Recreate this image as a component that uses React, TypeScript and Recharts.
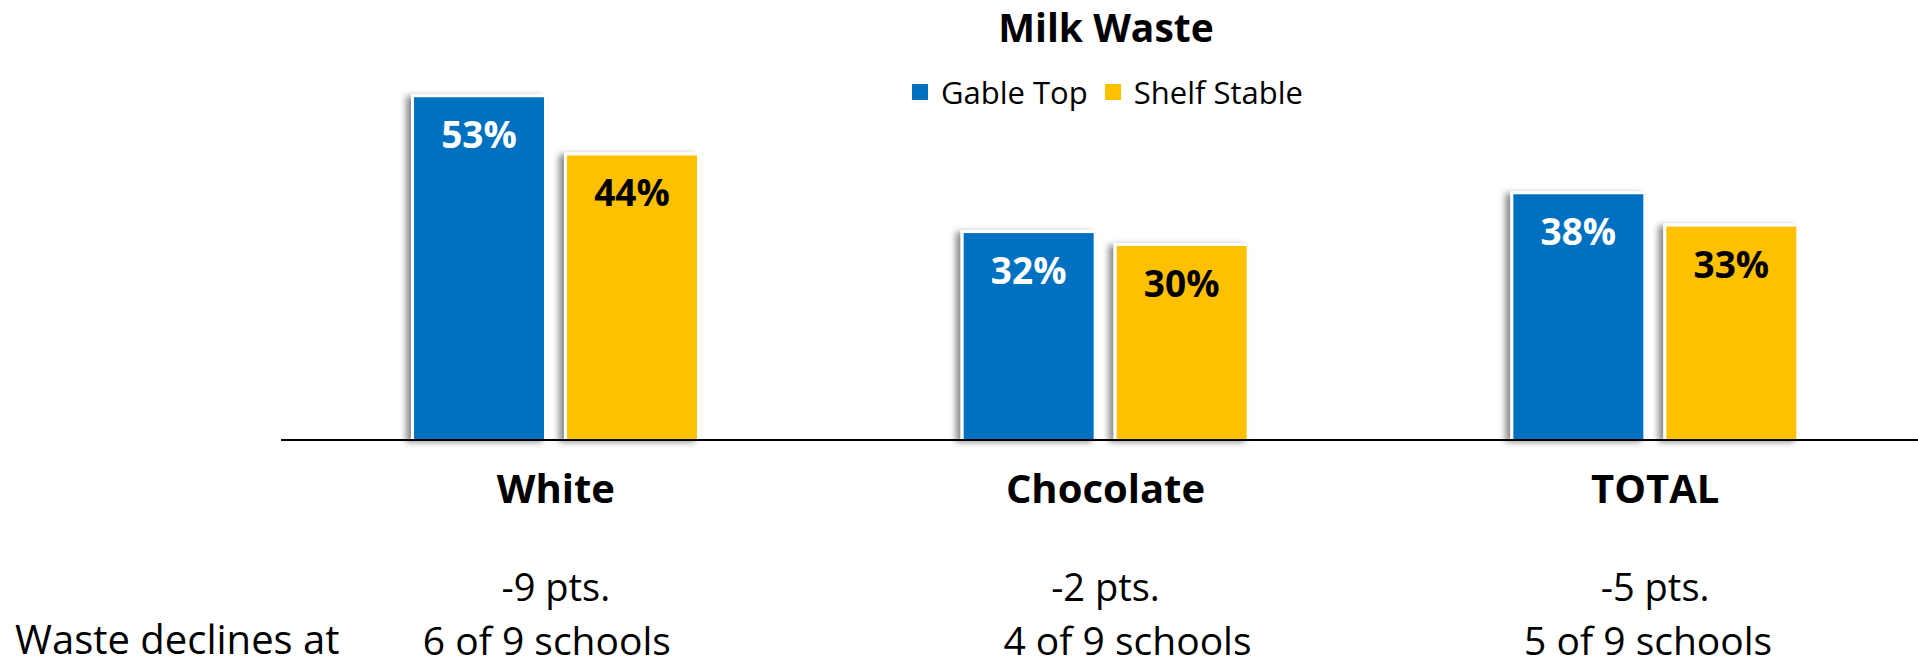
import React from 'react';
import { BarChart, Bar, XAxis, YAxis, Legend, LabelList } from 'recharts';

const categories = ['White', 'Chocolate', 'TOTAL'];
const gableTop = [53, 32, 38];
const shelfStable = [44, 30, 33];
const pointChange = ['-9 pts.', '-2 pts.', '-5 pts.'];
const schoolsDeclining = ['6 of 9 schools', '4 of 9 schools', '5 of 9 schools'];

// small horizontal nudges for the hand-placed text boxes under each category
const schoolsNudge = [-9, 22, -7];

const FONT = "'Open Sans', sans-serif";
const BLUE = '#0070C0';
const GOLD = '#FFC000';

const data = categories.map((name, i) => ({
  name,
  gable: gableTop[i],
  shelf: shelfStable[i],
}));

const ShadowBar = (props: any) => {
  const { x, y, width, height, fill } = props;
  if (!height || height <= 0) return null;
  return (
    <g>
      <rect x={x - 3} y={y - 3} width={width + 6} height={height + 3} fill="#fff" filter="url(#barShadow)" />
      <rect x={x} y={y} width={width} height={height} fill={fill} />
    </g>
  );
};

const valueLabel = (color: string) => (props: any) => {
  const { x, y, width, value } = props;
  return (
    <text x={x + width / 2} y={y + 51} textAnchor="middle" fill={color} fontFamily={FONT} fontWeight={700} fontSize={37}>
      {value}%
    </text>
  );
};

const CategoryTick = (props: any) => {
  const { x, y, payload } = props;
  const i = payload.index;
  return (
    <g>
      <text x={x} y={y + 63} textAnchor="middle" fill="#000" fontFamily={FONT} fontWeight={700} fontSize={40}>
        {payload.value}
      </text>
      <text x={x} y={y + 161} textAnchor="middle" fill="#000" fontFamily={FONT} fontSize={38}>
        {pointChange[i]}
      </text>
      <text x={x + schoolsNudge[i]} y={y + 215} textAnchor="middle" fill="#000" fontFamily={FONT} fontSize={39}>
        {schoolsDeclining[i]}
      </text>
    </g>
  );
};

const LegendContent = (props: any) => {
  const { payload } = props;
  return (
    <div style={{ display: 'flex', alignItems: 'center', fontFamily: FONT, fontSize: 31, lineHeight: '42px', color: '#000' }}>
      {(payload || []).map((item: any) => (
        <div key={item.value} style={{ display: 'flex', alignItems: 'center', marginRight: 17 }}>
          <span style={{ width: 16, height: 16, background: item.color, display: 'inline-block', marginRight: 13 }} />
          <span>{item.value}</span>
        </div>
      ))}
    </div>
  );
};

export default function App() {
  return (
    <div style={{ position: 'absolute', top: 0, left: 0, width: 1918, height: 666, overflow: 'hidden', background: '#fff' }}>
      <svg width={1918} height={666} style={{ position: 'absolute', top: 0, left: 0, pointerEvents: 'none', zIndex: 1 }}>
        <defs>
          <filter id="barShadow" x="-20%" y="-10%" width="140%" height="120%">
            <feDropShadow dx={-5} dy={2} stdDeviation={3} floodColor="#000" floodOpacity={0.45} />
          </filter>
        </defs>
        <text x={1106} y={42} textAnchor="middle" fontFamily={FONT} fontWeight={700} fontSize={39} fill="#000">
          Milk Waste
        </text>
        <text x={15} y={654} fontFamily={FONT} fontSize={40} fill="#000">
          Waste declines at
        </text>
      </svg>
      <BarChart
        width={1930}
        height={666}
        data={data}
        margin={{ top: 52, right: 0, left: 281, bottom: 0 }}
        barGap={23}
        barSize={130}
      >
        <YAxis hide domain={[0, 60]} />
        <Legend
          layout="horizontal"
          verticalAlign="middle"
          align="center"
          wrapperStyle={{ top: 71, left: 912, width: 520 }}
          content={<LegendContent />}
        />
        <Bar dataKey="gable" name="Gable Top" fill={BLUE} shape={<ShadowBar />} isAnimationActive={false}>
          <LabelList dataKey="gable" content={valueLabel('#fff')} />
        </Bar>
        <Bar dataKey="shelf" name="Shelf Stable" fill={GOLD} shape={<ShadowBar />} isAnimationActive={false}>
          <LabelList dataKey="shelf" content={valueLabel('#000')} />
        </Bar>
        <XAxis
          dataKey="name"
          axisLine={{ stroke: '#000', strokeWidth: 2 }}
          tickLine={false}
          tickSize={0}
          tickMargin={0}
          height={226}
          interval={0}
          tick={<CategoryTick />}
        />
      </BarChart>
    </div>
  );
}
